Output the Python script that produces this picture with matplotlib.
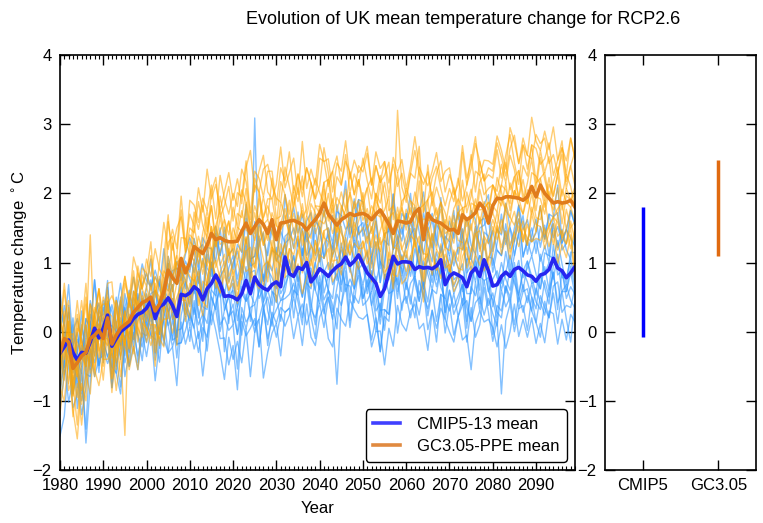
import numpy as np
import matplotlib
matplotlib.use("Agg")
import matplotlib.pyplot as plt
from matplotlib.ticker import MultipleLocator

plt.rcParams['font.family'] = ['Liberation Sans', 'DejaVu Sans']

years = np.arange(1980, 2100)

# Ensemble means (deg C relative to baseline)
cmip5_mean = [
    -0.31, -0.22, -0.12, -0.30, -0.41, -0.30, -0.31, -0.15, 0.05, -0.09,
    0.05, 0.24, -0.21, -0.10, 0.00, 0.05, 0.10, 0.19, 0.25, 0.28,
    0.34, 0.45, 0.19, 0.36, 0.40, 0.49, 0.38, 0.22, 0.54, 0.52,
    0.56, 0.65, 0.60, 0.46, 0.62, 0.70, 0.82, 0.70, 0.51, 0.52,
    0.50, 0.46, 0.55, 0.74, 0.55, 0.79, 0.68, 0.63, 0.60, 0.68,
    0.72, 0.65, 1.08, 0.84, 0.80, 0.93, 0.90, 1.00, 0.72, 0.80,
    0.91, 0.86, 0.80, 0.88, 0.94, 0.98, 1.08, 0.96, 1.02, 1.11,
    0.98, 0.85, 0.78, 0.70, 0.51, 0.62, 0.85, 1.09, 0.98, 1.01,
    1.01, 1.00, 0.90, 0.94, 0.92, 0.93, 0.91, 0.95, 1.04, 0.68,
    0.80, 0.85, 0.82, 0.78, 0.65, 0.85, 0.92, 0.80, 1.04, 0.88,
    0.66, 0.68, 0.80, 0.86, 0.80, 0.90, 0.93, 0.88, 0.82, 0.80,
    0.73, 0.82, 0.84, 0.90, 1.06, 0.92, 0.88, 0.78, 0.85, 0.94,
]
ppe_mean = [
    -0.30, -0.10, -0.15, -0.53, -0.45, -0.35, -0.30, -0.10, -0.05, 0.02,
    -0.10, 0.20, -0.18, -0.05, 0.05, 0.10, 0.15, 0.28, 0.35, 0.42,
    0.45, 0.50, 0.30, 0.40, 0.58, 0.89, 0.78, 0.70, 1.06, 0.85,
    1.00, 1.23, 1.18, 1.13, 1.25, 1.42, 1.33, 1.36, 1.32, 1.30,
    1.30, 1.31, 1.45, 1.57, 1.42, 1.52, 1.62, 1.55, 1.42, 1.62,
    1.33, 1.57, 1.58, 1.60, 1.61, 1.58, 1.55, 1.47, 1.55, 1.62,
    1.71, 1.86, 1.70, 1.62, 1.54, 1.62, 1.66, 1.71, 1.68, 1.70,
    1.71, 1.68, 1.62, 1.70, 1.76, 1.66, 1.55, 1.42, 1.60, 1.59,
    1.57, 1.59, 1.72, 1.78, 1.33, 1.71, 1.62, 1.59, 1.57, 1.52,
    1.47, 1.48, 1.42, 1.69, 1.62, 1.66, 1.72, 1.86, 1.78, 1.57,
    1.82, 1.93, 1.92, 1.95, 1.95, 1.94, 1.93, 1.90, 1.95, 2.10,
    1.95, 2.12, 2.00, 1.93, 1.86, 1.88, 1.86, 1.87, 1.90, 1.80,
]

# Individual members, stored as departures from the ensemble mean in tenths of a degree
b01 = [4, 1, -2, 3, 6, 2, -1, 4, 0, 3,  -3, 2, 5, 1, -2, 3, 0, 4, 2, -1,
       3, 6, 1, 4, -1, 5, 2, 7, 3, 1,  5, 2, 6, 8, 3, 1, 6, 4, 9, 2,
       5, 7, 3, 6, 2, 8, 4, 1, 6, 9,  3, 5, 0, 7, 4, 8, 2, 6, 10, 3,
       6, 2, 7, 4, 9, 5, 1, 6, 3, 8,  4, 7, 2, 9, 5, 3, 8, 1, 6, 4,
       7, 3, 9, 5, 2, 6, 8, 4, 1, 7,  5, 9, 3, 6, 10, 4, 2, 7, 5, 8,
       3, 6, 9, 4, 7, 2, 5, 8, 3, 6,  9, 4, 7, 2, 6, 8, 3, 5, 9, 6]
b02 = [-5, -2, 1, -3, 0, -6, -1, 2, -4, 1,  3, -1, -4, 2, 5, 0, -2, 3, 1, -3,
       2, -1, 4, 0, 3, 5, -2, 1, 4, 2,  0, 4, 1, 6, 2, -1, 5, 3, 0, 4,
       6, 2, 4, 0, 5, 3, 7, 1, 4, 2,  5, 1, 3, 6, 0, 4, 2, 5, 3, 7,
       1, 4, 6, 2, 5, 0, 3, 7, 2, 4,  6, 3, 0, 5, 2, 4, 7, 1, 3, 5,
       2, 6, 4, 0, 5, 3, 1, 6, 4, 2,  5, 1, 4, 7, 2, 3, 6, 0, 4, 5,
       2, 5, 3, 6, 1, 4, 7, 2, 5, 3,  6, 2, 4, 1, 5, 3, 6, 4, 2, 5]
b03 = [3, 6, 2, -2, 1, 4, 0, -3, 2, 5,  0, -2, 3, 1, -4, 2, 4, -1, 0, 3,
       -2, 1, 4, -1, 2, 0, 3, -3, 1, 4,  2, -1, 3, 0, 5, 2, -2, 1, 4, 0,
       3, -1, 2, 5, 0, 23, 1, -2, 3, 1,  -1, 4, 2, 0, 3, -2, 1, 5, 0, 2,
       3, 0, -2, 4, 1, 2, -1, 3, 0, 4,  1, -2, 3, 0, 5, 2, -1, 1, 4, 0,
       2, 4, -1, 3, 0, 1, 5, -2, 2, 3,  0, 3, 1, -2, 4, 2, 0, 3, -1, 2,
       4, 1, -1, 3, 0, 2, 5, -1, 1, 3,  1, -2, 3, 2, 0, 4, 1, -1, 3, 2]
b04 = [-8, -4, 0, -6, -2, -9, -5, -1, -7, -3,  -4, 0, -6, -2, 1, -5, -3, 0, -7, -2,
       1, -3, 0, -4, 2, -2, -5, 1, -1, -3,  0, -4, 2, -1, -3, 3, 0, -2, 1, -4,
       2, -1, 0, -3, 3, 1, -2, 0, 4, -1,  -3, 1, -2, 2, 0, -4, 3, -1, 1, -2,
       2, -3, 0, 1, -2, 3, -1, 0, -4, 2,  0, 3, -2, 1, -3, 2, 0, -1, 3, -2,
       1, -2, 3, 0, -3, 2, -1, 1, -2, 0,  3, -1, 0, -4, 2, 1, -2, 3, 0, -3,
       1, 2, -2, 0, 3, -1, 1, -3, 2, 0,  -2, 3, 0, 1, -3, 2, -1, 0, 2, -2]
b05 = [-12, -10, -3, -8, -5, -2, -13, -6, -1, -4,  -2, -6, 0, -3, -8, -1, -4, 2, -3, -5,
       -1, -4, 2, -6, -2, 0, -5, -3, 1, -2,  -4, 0, -3, -6, 1, -2, -5, 0, -1, -3,
       -2, -5, 1, -3, 0, -4, -1, 2, -3, -6,  0, -2, -5, 1, -3, 0, -4, -1, 2, -2,
       -5, 0, -2, -4, 1, -3, -1, -5, 0, -2,  -3, 1, -4, -1, -2, 2, -3, -5, 0, -1,
       -4, 0, -2, -5, 1, -1, -3, 0, -4, -2,  1, -3, -1, 0, -5, -2, 2, -4, -1, -3,
       -2, -5, 0, -3, 1, -2, -4, 0, -1, -3,  -4, 0, -2, -5, -1, 1, -3, -2, 0, -4]
b06 = [2, -3, 5, 0, -4, 1, -2, 3, -1, -5,  1, -3, -6, 0, 2, -4, -1, -3, 1, -2,
       -5, -1, -3, 1, -6, -2, 0, -4, -7, -1,  -3, -6, 0, -2, -5, -1, -3, -7, -2, 0,
       -4, -1, -6, -2, -3, -8, 0, -3, -5, -1,  -2, -5, -3, 0, -6, -2, -4, -1, -3, -7,
       -1, -4, -2, -6, -3, 0, -5, -2, -4, -1,  -5, -2, 0, -4, -1, -6, -3, -2, -5, 0,
       -3, -6, -1, -4, -2, -5, 0, -3, -1, -4,  -2, -5, -3, -1, -6, -2, -4, 0, -3, -5,
       -1, -4, -6, -2, -3, 0, -5, -2, -4, -1,  -3, -5, -1, -4, -2, -6, 0, -3, -2, -4]
b07 = [5, 1, -2, 4, 0, -3, 2, 6, -1, 3,  -1, 2, -3, 0, 4, -2, 1, -4, 0, 2,
       -3, 0, -5, -2, 1, -4, -1, -6, -3, 0,  -5, -2, -7, -3, 0, -6, -4, -1, -8, -3,
       -1, -5, -3, -7, -2, -4, -9, -3, -1, -5,  -4, -2, -6, -3, -1, -5, -8, -2, -4, 0,
       -3, -6, -2, -5, -9, -1, -4, -3, -6, -2,  -5, -1, -4, -7, -2, -3, -6, 0, -4, -2,
       -6, -3, -1, -5, -2, -7, -3, -4, -1, -5,  -2, -6, -4, -1, -3, -7, -2, -5, -3, -1,
       -7, -3, -5, -2, -4, -1, -6, -3, -2, -5,  -1, -4, -6, -3, -2, -5, -3, -1, -4, -6]
b08 = [-3, 2, -1, -6, 1, -2, 4, -4, 0, 2,  -5, -1, 1, -4, -2, 0, -6, -1, -3, -7,
       -2, -5, -3, -8, -1, -4, -6, -2, -5, -3,  -7, -3, -5, -2, -9, -4, -1, -6, -3, -5,
       -4, -10, -2, -6, -3, -7, -5, -2, -8, -4,  -6, -3, -8, -5, -2, -4, -7, -3, -5, -9,
       -2, -5, -3, -7, -4, -6, -2, -8, -4, -3,  -6, -4, -2, -5, -8, -3, -6, -4, -2, -7,
       -3, -5, -7, -2, -4, -6, -3, -8, -5, -2,  -5, -3, -6, -4, -2, -7, -5, -3, -8, -4,
       -4, -6, -2, -5, -3, -8, -4, -6, -3, -5,  -6, -3, -5, -7, -4, -2, -6, -4, -5, -3]
b09 = [1, -4, -2, 2, -7, -3, -11, -1, -5, 0,  -2, -6, -3, -5, 1, -7, -4, -2, -6, -3,
       -4, -1, -6, -3, -5, -8, -2, -4, -7, -5,  -3, -6, -9, -4, -7, -2, -5, -8, -6, -10,
       -7, -13, -4, -8, -5, -6, -9, -3, -7, -5,  -8, -4, -10, -6, -3, -7, -5, -9, -4, -6,
       -5, -8, -3, -7, -17, -6, -4, -9, -5, -7,  -3, -6, -9, -5, -8, -4, -7, -3, -10, -6,
       -5, -8, -4, -7, -3, -9, -6, -11, -5, -7,  -4, -9, -6, -3, -8, -5, -10, -7, -4, -6,
       -8, -5, -17, -7, -4, -9, -6, -5, -8, -3,  -6, -9, -4, -7, -5, -8, -3, -6, -10, -5]
b10 = [-6, -2, -9, -4, -1, -7, -3, -5, 0, -4,  -3, -7, -1, -5, -9, -2, -6, -4, -8, -3,
       -7, -4, -9, -5, -2, -8, -6, -10, -4, -7,  -5, -9, -6, -11, -7, -4, -8, -10, -12, -6,
       -9, -6, -10, -7, -12, -8, -5, -13, -9, -7,  -6, -10, -8, -5, -9, -7, -11, -6, -8, -10,
       -7, -5, -9, -11, -6, -8, -10, -5, -7, -9,  -8, -6, -10, -7, -5, -11, -8, -13, -6, -9,
       -10, -7, -5, -9, -8, -12, -6, -9, -7, -5,  -8, -10, -6, -9, -7, -14, -8, -5, -9, -7,
       -6, -9, -7, -11, -8, -5, -10, -7, -9, -6,  -9, -7, -10, -6, -8, -11, -7, -9, -6, -8]
b11 = [6, 3, 8, 1, 4, -1, 5, 2, 7, 3,  2, 5, 0, 4, 7, 1, 3, 6, 2, 4,
       5, 2, 7, 3, 0, 6, 4, 8, 2, 5,  3, 7, 4, 1, 6, 5, 2, 8, 4, 6,
       7, 3, 5, 9, 4, 2, 6, 8, 3, 5,  4, 8, 2, 5, 7, 3, 6, 1, 5, 8,
       6, 2, 5, 8, 3, 7, 4, 6, 9, 3,  5, 8, 3, 6, 2, 7, 4, 9, 5, 3,
       7, 4, 6, 2, 8, 5, 3, 7, 4, 6,  3, 6, 9, 4, 7, 2, 5, 8, 6, 4,
       8, 5, 3, 7, 4, 6, 9, 2, 5, 7,  4, 7, 5, 8, 3, 6, 4, 7, 5, 3]
b12 = [9, 3, -2, 5, 1, 6, -3, 2, 7, 0,  4, -1, 6, 2, -2, 5, 1, -3, 3, 0,
       -1, 3, 0, -4, 2, -2, 1, -3, 0, 2,  -2, 1, -4, 0, -1, 3, -3, 1, -2, 0,
       1, -3, 0, 2, -4, -1, 3, -2, 0, -3,  2, -1, -4, 0, 3, -2, 1, -3, -1, 2,
       -3, 0, 2, -2, -1, -4, 1, -1, 3, -2,  0, -3, 1, -2, -4, 0, 2, -1, -3, 1,
       -2, 1, -1, 3, -3, 0, -2, 2, -1, -4,  1, -2, 0, 2, -1, -3, 1, -2, 3, 0,
       -3, 0, 2, -1, -2, 1, -4, 0, 2, -1,  0, -2, 1, -3, 2, -1, 0, -2, 1, -3]
b13 = [-4, 1, 4, -1, 3, 0, 5, 2, -2, 4,  1, 4, 2, 6, 0, 3, 5, 1, 4, 7,
       4, 2, 6, 3, 8, 1, 5, 7, 3, 6,  8, 5, 3, 9, 6, 2, 7, 4, 10, 6,
       4, 8, 6, 11, 5, 3, 9, 7, 5, 8,  7, 4, 9, 6, 10, 5, 8, 3, 7, 9,
       5, 9, 6, 3, 8, 7, 11, 4, 6, 8,  9, 5, 7, 10, 4, 8, 6, 9, 3, 7,
       6, 10, 4, 8, 11, 5, 7, 3, 9, 6,  8, 5, 10, 6, 3, 9, 7, 4, 8, 11,
       5, 8, 6, 10, 7, 4, 9, 6, 8, 5,  7, 10, 5, 8, 6, 12, 4, 7, 9, 6]

o01 = [3, 7, 1, 5, -2, 4, 8, 0, 3, 6,  2, 5, 9, 1, 4, 7, 3, 6, 0, 5,
       4, 8, 2, 6, 10, 3, 7, 5, 9, 4,  7, 3, 9, 6, 11, 5, 8, 4, 7, 10,
       6, 9, 4, 8, 12, 5, 7, 10, 6, 3,  8, 11, 5, 7, 9, 4, 12, 6, 8, 5,
       10, 6, 8, 4, 9, 7, 11, 5, 8, 6,  7, 10, 5, 9, 6, 8, 4, 11, 7, 9,
       5, 8, 11, 6, 9, 4, 7, 10, 6, 8,  9, 5, 7, 10, 6, 8, 11, 4, 7, 9,
       6, 9, 7, 4, 10, 8, 5, 9, 6, 10,  8, 5, 9, 7, 11, 6, 8, 4, 9, 7]
o02 = [-2, 4, 1, -3, 6, 2, -1, 5, 3, 0,  6, 1, 4, -2, 3, 7, 2, 5, -1, 4,
       2, 6, 3, 0, 5, 8, 1, 4, 7, 3,  5, 2, 7, 4, 1, 6, 9, 3, 5, 8,
       3, 7, 5, 9, 2, 6, 4, 8, 10, 5,  6, 3, 8, 5, 2, 7, 4, 9, 6, 3,
       4, 8, 6, 2, 7, 5, 9, 3, 6, 4,  8, 5, 3, 7, 4, 6, 9, 2, 16, 5,
       3, 7, 5, 9, 4, 2, 6, 8, 5, 3,  6, 4, 8, 2, 5, 9, 3, 6, 4, 7,
       4, 7, 3, 6, 9, 5, 2, 8, 4, 6,  7, 3, 5, 8, 4, 6, 9, 3, 5, 8]
o03 = [5, 0, -3, 2, 7, 1, 4, -2, 3, 6,  -1, 3, 0, 5, 2, -3, 4, 1, 6, 2,
       4, 1, 5, 2, -1, 4, 6, 0, 3, 5,  1, 5, 3, 7, 2, 4, 0, 6, 3, 1,
       5, 2, 6, 3, 0, 7, 4, 1, 5, 3,  2, 6, 4, 1, 5, 3, 7, 2, 4, 6,
       3, 0, 5, 7, 2, 4, 1, 6, 3, 5,  1, 4, 6, 2, 5, 3, 0, 4, 7, 2,
       5, 3, 1, 6, 4, 7, 2, 5, 3, 0,  4, 6, 2, 5, 1, 3, 6, 4, 2, 5,
       3, 1, 5, 2, 6, 4, 0, 5, 3, 6,  2, 5, 3, 6, 1, 4, 7, 2, 5, 3]
o04 = [-6, -2, 3, -4, 0, -7, -3, 1, -5, -1,  2, -3, -1, 4, -2, 1, -4, 3, 0, -2,
       1, -2, 4, 0, 3, -1, 5, 2, -1, 3,  4, 1, -1, 3, 5, 0, 2, 4, 1, 3,
       0, 4, 2, 5, 1, 3, 0, 4, 2, 6,  3, 1, 4, 0, 2, 5, 1, 3, 6, 2,
       0, 3, 5, 1, 4, 2, 0, 3, 1, 5,  2, 4, 0, 3, 1, 5, 2, 4, 0, 3,
       4, 1, 3, 0, 5, 2, 4, 1, 3, 2,  0, 3, 5, 1, 2, 4, 0, 3, 5, 1,
       3, 0, 2, 5, 1, 3, 4, 0, 2, 4,  1, 4, 2, 0, 3, 5, 1, 4, 2, 0]
o05 = [4, 8, 2, -1, 5, 3, 7, 0, 4, 2,  0, -4, 2, 5, -2, 1, 3, -1, 4, 0,
       2, -1, 3, 1, -3, 2, 0, 4, -2, 1,  -1, 3, 0, -2, 2, 4, -1, 1, 3, -2,
       2, 0, -3, 3, 1, -1, 4, 0, 2, -2,  0, 3, 1, -2, 4, 0, 2, -1, 3, 1,
       -2, 2, 0, 3, -1, 1, 4, -2, 2, 0,  3, -1, 2, 0, 4, -2, 1, 3, -1, 2,
       0, 2, -2, 4, 1, -1, 3, 0, 2, -3,  2, 0, 3, -1, 4, 1, -2, 2, 0, 3,
       -1, 3, 1, -2, 2, 0, 4, 1, -1, 2,  3, 0, -2, 2, 1, 4, -1, 2, 0, 3]
o06 = [-9, -5, -1, -7, -3, -10, -4, -2, -6, 0,  -3, 0, -5, -1, -7, -2, 1, -4, -2, 0,
       -2, 2, -1, -4, 1, -3, 0, 3, -2, -1,  1, -2, 2, 0, -3, 1, -1, 3, 0, -2,
       -1, 2, 0, -3, 1, -2, 3, 0, -1, 1,  2, -1, 0, 3, -2, 1, -3, 2, 0, -1,
       1, -2, 3, 0, -1, 2, 0, -3, 1, 2,  -1, 1, -2, 2, 0, -3, 1, 0, 2, -1,
       2, 0, 1, -2, 3, -1, 0, 2, -2, 1,  -1, 2, 0, 1, -3, 2, 1, -1, 0, 3,
       0, -2, 2, 1, -1, 3, 0, -2, 1, -1,  2, 1, -1, 3, 0, -2, 2, 0, -1, 1]
o07 = [2, -3, 5, 1, -2, 4, 10, -1, 3, -4,  1, 4, -2, 2, -3, -16, 3, -1, 5, 2,
       0, -3, 2, 4, -1, 1, -2, 3, 0, -4,  3, 0, -2, 1, 4, -3, 2, -1, 0, 3,
       -2, 1, 3, -1, 0, 2, -3, 1, 4, 0,  -3, 0, 2, -1, 1, -2, 3, 0, -2, 2,
       1, 3, -1, 2, -3, 0, 1, 3, -2, 0,  2, -2, 0, 3, -1, 1, 4, -2, 0, 2,
       -1, 3, 0, -2, 1, 2, -3, 0, 3, -1,  0, -2, 3, 1, -1, 0, 2, -3, 1, 2,
       3, 0, -1, 2, -2, 1, 0, 3, -1, 0,  -2, 1, 3, 0, -1, 2, -3, 1, 0, 2]
o08 = [7, 3, -1, 4, 9, 2, -2, 5, 1, 6,  3, -1, 2, -3, 4, 0, -2, 3, -4, 1,
       -3, 0, -5, -1, 2, -2, -4, 0, -3, 1,  -2, -5, 0, -3, -1, 1, -4, -2, 0, -3,
       0, -3, -1, 2, -4, -2, 0, -3, 1, -1,  -4, -1, 1, -2, -3, 0, -1, -4, 2, -2,
       -1, -3, 0, -2, 1, -4, -2, 0, -3, -1,  1, -2, -4, 0, -1, -3, 0, -2, 1, -4,
       -2, 0, -3, -1, 2, -2, -4, 0, -1, -3,  -3, 1, -1, -4, 0, -2, 1, -3, -1, 0,
       -1, -4, 0, -2, -3, 1, -1, -2, 0, -4,  0, -2, -3, 1, -2, -1, 0, -4, -1, -2]
o09 = [-4, 2, -7, -1, -5, 1, -3, -8, 0, -2,  -6, -2, 1, -4, 0, -3, -6, -1, -3, -5,
       -1, -4, -2, -6, -3, 0, -5, -2, -4, -1,  -5, -2, -4, -1, -6, -3, 0, -4, -2, -5,
       -3, -1, -5, -2, -4, -6, -1, -3, 0, -4,  -2, -5, -3, -1, -4, -2, -6, -1, -3, -5,
       -4, -1, -3, -5, 0, -2, -4, -6, -1, -3,  -2, -4, -1, -5, -3, 0, -3, -6, -2, -4,
       -5, -2, -4, -1, -3, -6, -2, -4, 0, -3,  -1, -4, -2, -5, -3, -1, -6, -2, -4, -3,
       -4, -2, -5, -1, -3, -4, -2, -6, -3, -1,  -3, -5, -1, -4, -2, -3, -5, -1, -4, -2]
o10 = [1, -6, 3, -2, -9, -1, 2, -5, -3, 4,  -4, 2, -1, -5, 1, -3, 0, -6, -2, -1,
       -5, -2, -6, -3, -4, -7, -1, -5, -3, -6,  -3, -6, -4, -7, -2, -5, -3, -6, -4, -1,
       -5, -3, -7, -4, -2, -6, -4, -1, -5, -3,  -6, -3, -5, -2, -7, -4, -1, -5, -3, -6,
       -2, -5, -4, -7, -3, -1, -6, -4, -2, -5,  -4, -6, -3, -1, -5, -3, -7, -2, -4, -6,
       -3, -1, -5, -4, -6, -2, -4, -7, -3, -5,  -6, -3, -4, -2, -5, -7, -3, -4, -6, -2,
       -2, -5, -3, -6, -4, -2, -5, -3, -7, -4,  -5, -3, -6, -4, -2, -5, -4, -6, -3, -5]
o11 = [-3, 0, -6, 3, -2, -5, 1, -4, 2, -3,  0, -3, -7, -1, -4, 2, -3, 0, -5, -2,
       -4, -6, -2, -5, -8, -3, -6, -4, -2, -7,  -5, -3, -8, -4, -6, -2, -7, -5, -3, -6,
       -4, -7, -5, -2, -6, -8, -3, -5, -7, -4,  -3, -6, -8, -4, -5, -2, -7, -4, -6, -3,
       -7, -4, -2, -6, -5, -8, -3, -6, -4, -5,  -5, -3, -7, -4, -6, -2, -5, -8, -3, -6,
       -4, -7, -3, -5, -2, -6, -8, -4, -5, -3,  -6, -4, -5, -8, -3, -5, -2, -7, -4, -6,
       -3, -6, -4, -2, -7, -5, -3, -6, -4, -8,  -5, -3, -7, -4, -6, -2, -5, -4, -7, -3]
o12 = [5, -1, 2, -4, 3, 0, -2, 4, -3, 1,  -2, 1, -5, 0, -3, 2, -4, -1, 1, -3,
       -4, -7, -3, -5, -2, -6, -8, -4, -6, -3,  -6, -4, -7, -9, -5, -3, -6, -8, -4, -7,
       -5, -8, -6, -4, -7, -3, -6, -9, -5, -4,  -7, -5, -3, -6, -8, -4, -6, -5, -9, -3,
       -6, -4, -8, -5, -3, -7, -5, -4, -6, -8,  -4, -7, -5, -3, -6, -9, -4, -6, -8, -5,
       -7, -5, -4, -8, -6, -3, -5, -7, -4, -6,  -5, -8, -6, -4, -7, -5, -3, -6, -9, -5,
       -6, -4, -7, -5, -8, -6, -4, -5, -7, -3,  -4, -6, -8, -5, -3, -7, -5, -6, -4, -10]
o13 = [-1, 3, 6, 0, 4, 8, 2, 15, -2, 3,  5, 2, 7, 4, 0, 6, 3, 8, 5, 2,
       6, 3, 9, 5, 2, 7, 4, 8, 6, 3,  9, 6, 4, 8, 5, 7, 3, 9, 6, 4,
       7, 5, 9, 6, 3, 8, 6, 4, 9, 7,  5, 8, 6, 10, 4, 7, 5, 9, 6, 3,
       8, 6, 4, 7, 10, 5, 8, 6, 3, 7,  6, 9, 5, 7, 4, 8, 6, 10, 5, 7,
       4, 7, 9, 5, 8, 6, 3, 7, 9, 5,  8, 6, 4, 9, 5, 7, 10, 6, 4, 8,
       5, 8, 6, 3, 7, 9, 5, 8, 6, 4,  9, 6, 8, 5, 7, 4, 8, 6, 9, 7]
o14 = [-5, -9, -2, -6, -11, -4, -7, -1, -5, -8,  -3, -6, -1, -8, -4, -2, -7, -5, -9, -3,
       -6, -4, -8, -2, -7, -5, -3, -9, -6, -4,  -8, -5, -3, -7, -9, -4, -6, -8, -5, -7,
       -6, -9, -4, -7, -5, -8, -10, -6, -4, -7,  -9, -5, -7, -4, -8, -6, -10, -7, -5, -8,
       -6, -8, -5, -9, -7, -4, -6, -8, -10, -5,  -7, -5, -9, -6, -4, -8, -6, -7, -5, -9,
       -8, -6, -4, -7, -9, -5, -7, -6, -8, -4,  -5, -9, -7, -6, -4, -8, -6, -9, -5, -7,
       -7, -4, -8, -6, -9, -5, -7, -4, -6, -8,  -6, -8, -5, -7, -4, -9, -6, -8, -5, -11]

cmip5_members = [b01, b02, b03, b04, b05, b06, b07, b08, b09, b10, b11, b12, b13]
ppe_members = [o01, o02, o03, o04, o05, o06, o07, o08, o09, o10, o11, o12, o13, o14]

# Range of end-of-century warming for the side panel
range_labels = ["CMIP5", "GC3.05"]
range_lo = [-0.08, 1.10]
range_hi = [1.80, 2.48]
range_colors = ["#0000ff", "#e06a10"]

ytick_vals = [-2, -1, 0, 1, 2, 3, 4]
ytick_text = ["\u22122", "\u22121", "0", "1", "2", "3", "4"]

fig = plt.figure(figsize=(7.63, 5.23), dpi=100)
ax = fig.add_axes([0.0786, 0.1013, 0.675, 0.7935])
ax2 = fig.add_axes([0.793, 0.1013, 0.198, 0.7935])

cmip5_mean = np.array(cmip5_mean)
ppe_mean = np.array(ppe_mean)

for dev in cmip5_members:
    ax.plot(years, cmip5_mean + np.array(dev) / 10.0, color="#3399ff", alpha=0.6, lw=1.0)
for dev in ppe_members:
    ax.plot(years, ppe_mean + np.array(dev) / 10.0, color="#ffa500", alpha=0.55, lw=1.0)

ax.plot(years, cmip5_mean, color="#2626f0", lw=2.6, label="CMIP5-13 mean")
ax.plot(years, ppe_mean, color="#e07c1c", lw=2.6, label="GC3.05-PPE mean")

ax.set_xlim(1980, 2099)
ax.set_ylim(-2, 4)
ax.set_xticks(np.arange(1980, 2100, 10))
ax.xaxis.set_minor_locator(MultipleLocator(1))
ax.set_yticks(ytick_vals)
ax.set_yticklabels(ytick_text)
ax.tick_params(direction="in", top=True, right=True, labelsize=12, length=7, width=1)
ax.tick_params(axis="x", pad=5.5)
ax.tick_params(axis="y", pad=6)
ax.tick_params(which="minor", direction="in", top=True, length=3, width=0.8)
ax.set_xlabel("Year", fontsize=12)
ax.xaxis.set_label_coords(0.5, -0.075)
ax.set_ylabel("Temperature change $^\\circ$C", fontsize=12)
ax.yaxis.set_label_coords(-0.058, 0.5)

leg = ax.legend(loc="lower right", fontsize=12, handlelength=1.6, borderpad=0.45,
                labelspacing=0.45, handletextpad=1.0, borderaxespad=0.5, framealpha=1.0)
leg.get_frame().set_edgecolor("black")
leg.get_frame().set_linewidth(1.0)
leg_colors = ["#4040ff", "#e08a40"]
for line, c in zip(leg.get_lines(), leg_colors):
    line.set_linewidth(2.6)
    line.set_color(c)

xpos = np.arange(1, len(range_labels) + 1)
ax2.vlines(xpos, range_lo, range_hi, colors=range_colors, lw=2.5)
ax2.set_xlim(0.5, 2.5)
ax2.set_ylim(-2, 4)
ax2.set_xticks(xpos)
ax2.set_xticklabels(range_labels)
ax2.set_yticks(ytick_vals)
ax2.set_yticklabels(ytick_text)
ax2.tick_params(direction="in", top=True, right=True, labelsize=12, length=7, width=1)
ax2.tick_params(axis="x", pad=5.5)
ax2.tick_params(axis="y", pad=6)

for a in (ax, ax2):
    for sp in a.spines.values():
        sp.set_linewidth(1.2)

fig.text(0.607, 0.962, "Evolution of UK mean temperature change for RCP2.6",
         ha="center", va="center", fontsize=13)

fig.savefig("out.png", dpi=100)
